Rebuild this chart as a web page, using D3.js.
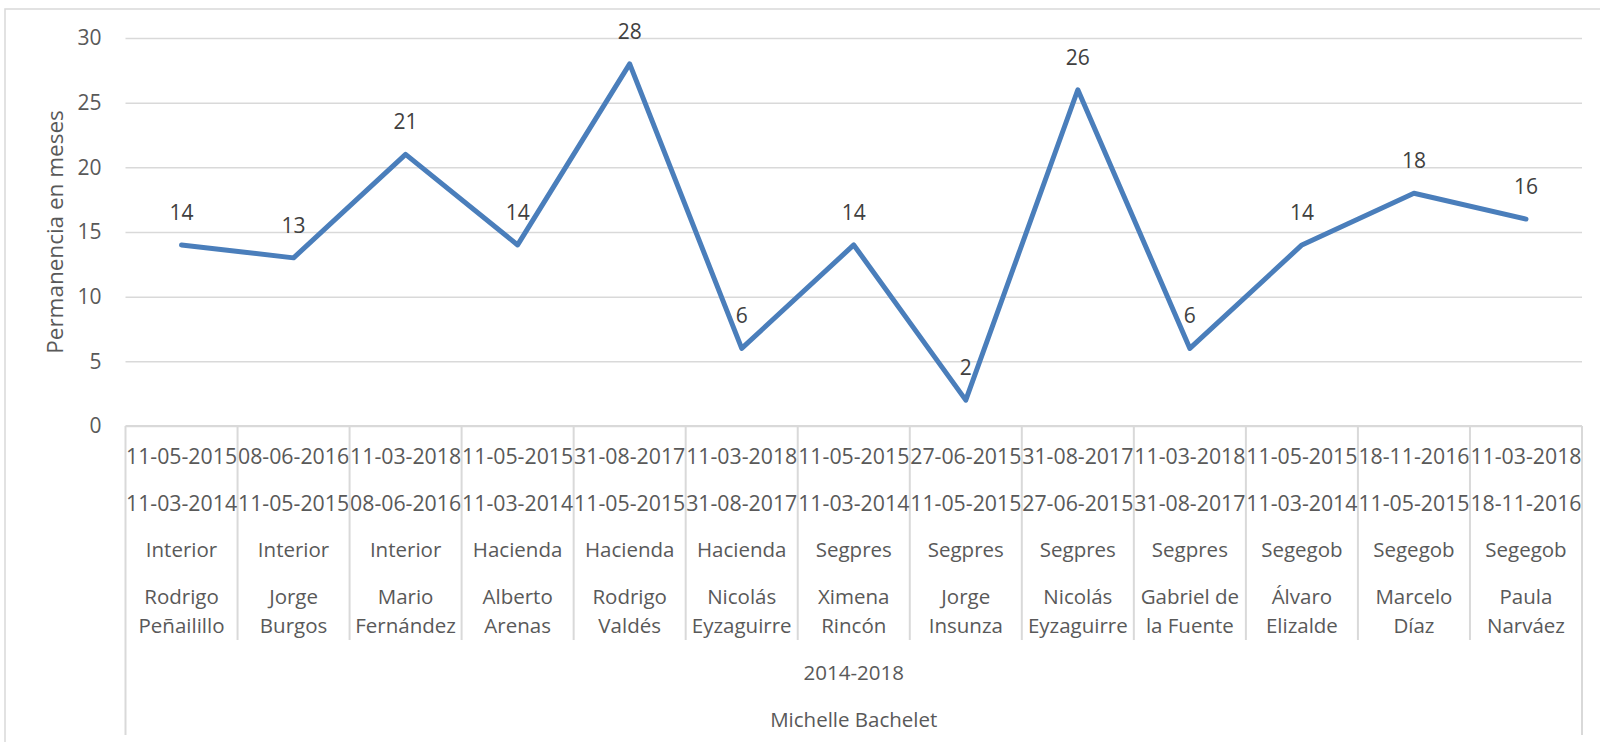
<!DOCTYPE html>
<html>
<head>
<meta charset="utf-8">
<script src="https://cdn.jsdelivr.net/npm/d3@7"></script>
<style>
  body { margin: 0; background: #fff; }
  svg { font-family: 'Open Sans', sans-serif; }
</style>
</head>
<body>
<svg id="chart" width="1600" height="742"></svg>
<script>
const values = [14, 13, 21, 14, 28, 6, 14, 2, 26, 6, 14, 18, 16]
const endDates = ['11-05-2015', '08-06-2016', '11-03-2018', '11-05-2015', '31-08-2017', '11-03-2018', '11-05-2015',
  '27-06-2015', '31-08-2017', '11-03-2018', '11-05-2015', '18-11-2016', '11-03-2018']
const startDates = ['11-03-2014', '11-05-2015', '08-06-2016', '11-03-2014', '11-05-2015', '31-08-2017', '11-03-2014',
  '11-05-2015', '27-06-2015', '31-08-2017', '11-03-2014', '11-05-2015', '18-11-2016']
const ministries = ['Interior', 'Interior', 'Interior', 'Hacienda', 'Hacienda', 'Hacienda', 'Segpres',
  'Segpres', 'Segpres', 'Segpres', 'Segegob', 'Segegob', 'Segegob']
const ministers = [['Rodrigo', 'Peñailillo'], ['Jorge', 'Burgos'], ['Mario', 'Fernández'], ['Alberto', 'Arenas'],
  ['Rodrigo', 'Valdés'], ['Nicolás', 'Eyzaguirre'], ['Ximena', 'Rincón'], ['Jorge', 'Insunza'],
  ['Nicolás', 'Eyzaguirre'], ['Gabriel de', 'la Fuente'], ['Álvaro', 'Elizalde'], ['Marcelo', 'Díaz'], ['Paula', 'Narváez']]
const period = '2014-2018'
const president = 'Michelle Bachelet'
const yTicks = [0, 5, 10, 15, 20, 25, 30]

const plotLeft = 125.5
const plotRight = 1582
const plotTop = 38
const plotBottom = 426
const grid = '#d9d9d9'
const textColor = '#595959'

const svg = d3.select('#chart')

// outer chart border (bottom and right edges fall outside the picture)
svg.append('rect')
  .attr('x', 5).attr('y', 9)
  .attr('width', 1620).attr('height', 760)
  .attr('fill', 'none')
  .attr('stroke', grid)
  .attr('stroke-width', 1.5)

const x = d3.scaleBand()
  .domain(d3.range(values.length))
  .range([plotLeft, plotRight])

const y = d3.scaleLinear()
  .domain([0, 30])
  .range([plotBottom, plotTop])

// gridlines + y tick labels
const yAxis = svg.append('g')
  .attr('transform', `translate(${plotLeft},0)`)
  .call(d3.axisLeft(y).tickValues(yTicks).tickSize(-(plotRight - plotLeft)).tickPadding(24))

yAxis.select('.domain').remove()
yAxis.selectAll('.tick line')
  .attr('stroke', grid)
  .attr('stroke-width', 1.5)
yAxis.selectAll('.tick text')
  .attr('fill', textColor)
  .attr('font-size', 21)
  .attr('font-family', "'Open Sans', sans-serif")

svg.append('text')
  .attr('transform', `translate(63,${(plotTop + plotBottom) / 2}) rotate(-90)`)
  .attr('text-anchor', 'middle')
  .attr('fill', textColor)
  .attr('font-size', 22.5)
  .text('Permanencia en meses')

// category axis: separators
const cat = svg.append('g')
svg.append('line')
  .attr('x1', plotLeft).attr('x2', plotRight)
  .attr('y1', plotBottom).attr('y2', plotBottom)
  .attr('stroke', grid).attr('stroke-width', 2)

const bounds = d3.range(values.length + 1).map(i => i < values.length ? x(i) : plotRight)
cat.selectAll('line.sep')
  .data(bounds)
  .join('line')
  .attr('class', 'sep')
  .attr('x1', d => d).attr('x2', d => d)
  .attr('y1', plotBottom)
  .attr('y2', (d, i) => (i === 0 || i === values.length) ? 735 : 640)
  .attr('stroke', grid)
  .attr('stroke-width', 2)

const cx = i => x(i) + x.bandwidth() / 2
const rows = [
  { data: endDates, y: 464, size: 21.3 },
  { data: startDates, y: 511, size: 21.3 },
  { data: ministries, y: 557, size: 20.5 }
]
rows.forEach(r => {
  cat.append('g').selectAll('text')
    .data(r.data)
    .join('text')
    .attr('x', (d, i) => cx(i))
    .attr('y', r.y)
    .attr('text-anchor', 'middle')
    .attr('fill', textColor)
    .attr('font-size', r.size)
    .text(d => d)
})

const names = cat.append('g').selectAll('text')
  .data(ministers)
  .join('text')
  .attr('x', (d, i) => cx(i))
  .attr('y', 604)
  .attr('text-anchor', 'middle')
  .attr('fill', textColor)
  .attr('font-size', 20.5)
names.append('tspan').attr('x', (d, i) => cx(i)).text(d => d[0])
names.append('tspan').attr('x', (d, i) => cx(i)).attr('dy', 29).text(d => d[1])

cat.append('text')
  .attr('x', (plotLeft + plotRight) / 2).attr('y', 680)
  .attr('text-anchor', 'middle')
  .attr('fill', textColor)
  .attr('font-size', 20.5)
  .text(period)

cat.append('text')
  .attr('x', (plotLeft + plotRight) / 2).attr('y', 727)
  .attr('text-anchor', 'middle')
  .attr('fill', textColor)
  .attr('font-size', 20.5)
  .text(president)

// series line
const line = d3.line()
  .x((d, i) => cx(i))
  .y(d => y(d))

svg.append('path')
  .datum(values)
  .attr('d', line)
  .attr('fill', 'none')
  .attr('stroke', '#4a7ebb')
  .attr('stroke-width', 5)
  .attr('stroke-linejoin', 'round')
  .attr('stroke-linecap', 'round')

svg.append('g').selectAll('text')
  .data(values)
  .join('text')
  .attr('x', (d, i) => cx(i))
  .attr('y', d => y(d) - 25)
  .attr('text-anchor', 'middle')
  .attr('fill', '#404040')
  .attr('font-size', 21)
  .text(d => d)
</script>
</body>
</html>
